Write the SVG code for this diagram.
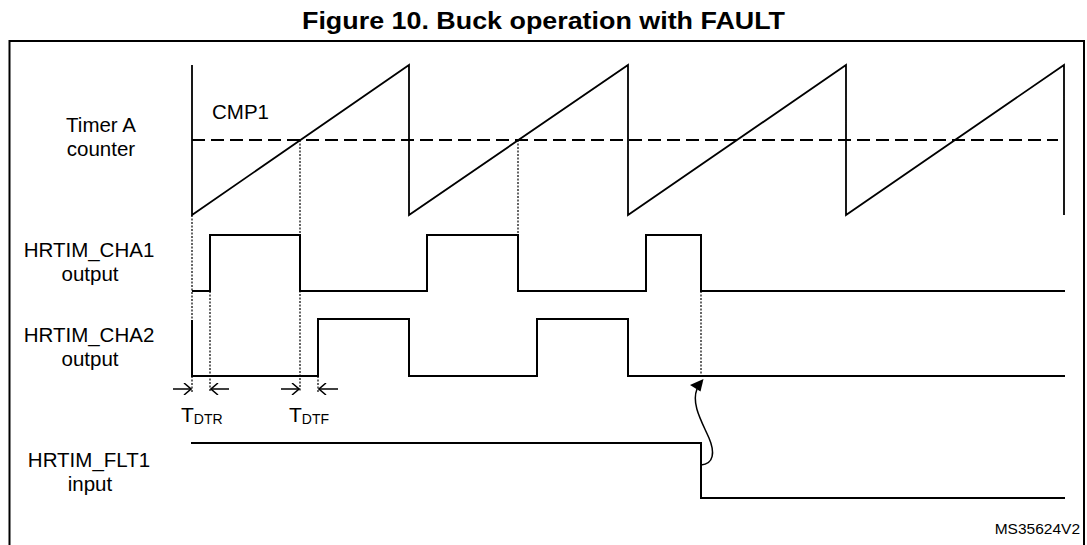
<svg xmlns="http://www.w3.org/2000/svg" width="1087" height="545" viewBox="0 0 1087 545">
<style>
text{font-family:"Liberation Sans",Arial,sans-serif;fill:#000}
.lbl{font-size:20.5px;text-anchor:middle}
.wave{fill:none;stroke:#000;stroke-width:2;stroke-linejoin:miter}
.dot{fill:none;stroke:#000;stroke-width:1.2;stroke-dasharray:2,1.5}
.dash{fill:none;stroke:#000;stroke-width:2;stroke-dasharray:13,6}
.arr{fill:none;stroke:#000;stroke-width:1.5}
</style>
<defs>
<marker id="open" markerWidth="10" markerHeight="12" refX="9" refY="6" orient="auto" markerUnits="userSpaceOnUse">
<path d="M2,0 L9,6 L2,12" fill="none" stroke="#000" stroke-width="1.5"/>
</marker>
</defs>
<rect width="1087" height="545" fill="#fff"/>
<text x="302" y="29" style="font-size:23px;font-weight:bold" textLength="483" lengthAdjust="spacingAndGlyphs">Figure 10. Buck operation with FAULT</text>
<path d="M9.5,560 V41 H1084 V560" fill="none" stroke="#000" stroke-width="2"/>

<g id="timerA">
<text class="lbl" x="101" y="132">Timer A</text>
<text class="lbl" x="101" y="156">counter</text>
<text x="212" y="119" style="font-size:20.5px">CMP1</text>
<path class="dash" d="M192,140 H1058"/>
<path class="wave" style="stroke-width:1.8" d="M192,65 V215 L409,65 V215 L628,65 V215 L846,65 V215 L1064,65 V215"/>
</g>

<g id="cha1">
<text class="lbl" x="89" y="257">HRTIM_CHA1</text>
<text class="lbl" x="90" y="281">output</text>
<path class="wave" d="M192,291 H210 V235 H300 V291 H427 V235 H518 V291 H646 V235 H701 V291 H1065"/>
</g>

<g id="cha2">
<text class="lbl" x="89" y="342">HRTIM_CHA2</text>
<text class="lbl" x="90" y="366">output</text>
<path class="wave" d="M192,320 V376 H318 V319 H409 V376 H537 V319 H628 V376 H1065"/>
</g>

<g id="flt1">
<text class="lbl" x="89" y="467">HRTIM_FLT1</text>
<text class="lbl" x="90" y="491">input</text>
<path class="wave" d="M191,443 H701 V498 H1065"/>
</g>

<g id="tdtr">
<text x="181" y="422" style="font-size:21px">T<tspan dy="2" style="font-size:14px">DTR</tspan></text>
</g>
<g id="tdtf">
<text x="289" y="422" style="font-size:21px">T<tspan dy="2" style="font-size:14px">DTF</tspan></text>
</g>

<g id="connectors">
<path class="dot" d="M192,215 V392"/>
<path class="dot" d="M210,291 V392"/>
<path class="dot" d="M300,140 V392"/>
<path class="dot" d="M318,376 V392"/>
<path class="dot" d="M518,140 V235"/>
<path class="dot" d="M701,291 V376"/>
<line class="arr" x1="173" y1="389" x2="191" y2="389" marker-end="url(#open)"/>
<line class="arr" x1="229" y1="389" x2="211" y2="389" marker-end="url(#open)"/>
<line class="arr" x1="281" y1="389" x2="299" y2="389" marker-end="url(#open)"/>
<line class="arr" x1="338" y1="389" x2="319" y2="389" marker-end="url(#open)"/>
<path fill="none" stroke="#000" stroke-width="1.5" d="M701,465 C714,464 715,452 709,438 C702,422 691,404 697,389" />
<path d="M703.5,379 L690,385 L700.5,391.5 Z" fill="#000"/>
</g>

<text x="1080" y="534" text-anchor="end" style="font-size:15.5px">MS35624V2</text>
</svg>
